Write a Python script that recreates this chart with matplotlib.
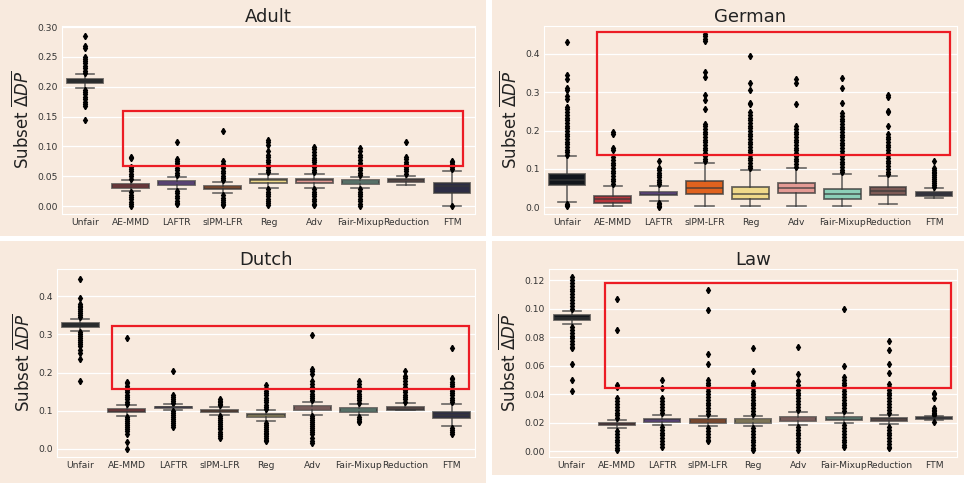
import matplotlib
matplotlib.use("Agg")
import matplotlib.pyplot as plt
from matplotlib.patches import Rectangle

methods = ["Unfair", "AE-MMD", "LAFTR", "sIPM-LFR", "Reg", "Adv",
           "Fair-Mixup", "Reduction", "FTM"]
palette = ["#12161c", "#b8363c", "#8c55d8", "#e0621e", "#efd98a",
           "#e49a94", "#8ccfb8", "#7d5a55", "#2d2d45"]

# ---- Adult ----
adult_q1 = [0.207, 0.031, 0.036, 0.028, 0.039, 0.039, 0.037, 0.040, 0.022]
adult_med = [0.210, 0.034, 0.039, 0.031, 0.043, 0.043, 0.040, 0.043, 0.033]
adult_q3 = [0.213, 0.037, 0.042, 0.033, 0.046, 0.046, 0.043, 0.045, 0.038]
adult_lo = [0.198, 0.026, 0.028, 0.021, 0.031, 0.031, 0.031, 0.035, 0.0005]
adult_hi = [0.221, 0.043, 0.049, 0.040, 0.054, 0.054, 0.049, 0.051, 0.059]
adult_fliers = [
    [0.223, 0.227, 0.231, 0.235, 0.239, 0.243, 0.247, 0.250, 0.265, 0.268, 0.285,
     0.195, 0.191, 0.187, 0.183, 0.179, 0.175, 0.171, 0.168, 0.145],
    [0.046, 0.050, 0.054, 0.058, 0.062, 0.065, 0.080, 0.082,
     0.023, 0.019, 0.015, 0.011, 0.007, 0.003, 0.0],
    [0.052, 0.056, 0.060, 0.064, 0.068, 0.072, 0.076, 0.079, 0.108,
     0.025, 0.021, 0.017, 0.013, 0.009, 0.005, 0.003],
    [0.043, 0.047, 0.051, 0.055, 0.059, 0.063, 0.067, 0.071, 0.075, 0.125,
     0.018, 0.014, 0.010, 0.006, 0.003, 0.001],
    [0.057, 0.061, 0.065, 0.069, 0.073, 0.077, 0.082, 0.086, 0.093, 0.103, 0.107, 0.111,
     0.028, 0.024, 0.020, 0.016, 0.012, 0.008, 0.005, 0.002],
    [0.057, 0.061, 0.065, 0.069, 0.073, 0.077, 0.081, 0.085, 0.090, 0.095, 0.099,
     0.028, 0.024, 0.020, 0.016, 0.012, 0.008, 0.004, 0.001],
    [0.052, 0.056, 0.060, 0.064, 0.068, 0.072, 0.077, 0.082, 0.086, 0.092, 0.097,
     0.028, 0.024, 0.020, 0.016, 0.012, 0.008, 0.004, 0.0],
    [0.054, 0.058, 0.062, 0.066, 0.070, 0.074, 0.078, 0.082, 0.107],
    [0.062, 0.066, 0.070, 0.073, 0.076, 0.0],
]

# ---- German ----
german_q1 = [0.057, 0.011, 0.031, 0.035, 0.022, 0.038, 0.022, 0.0315, 0.028]
german_med = [0.072, 0.020, 0.035, 0.050, 0.035, 0.050, 0.033, 0.042, 0.033]
german_q3 = [0.0875, 0.029, 0.040, 0.067, 0.052, 0.063, 0.048, 0.0525, 0.0385]
german_lo = [0.013, 0.003, 0.016, 0.003, 0.002, 0.003, 0.003, 0.007, 0.0245]
german_hi = [0.133, 0.056, 0.056, 0.116, 0.097, 0.102, 0.0875, 0.082, 0.050]
german_fliers = [
    [0.136, 0.143, 0.150, 0.157, 0.164, 0.171, 0.178, 0.185, 0.192, 0.199, 0.206,
     0.213, 0.220, 0.227, 0.234, 0.241, 0.248, 0.255, 0.262, 0.282, 0.290, 0.305,
     0.310, 0.335, 0.345, 0.430, 0.002, 0.006, 0.009],
    [0.060, 0.067, 0.074, 0.081, 0.088, 0.095, 0.102, 0.109, 0.116, 0.123, 0.130,
     0.150, 0.155, 0.190, 0.195],
    [0.060, 0.066, 0.072, 0.078, 0.084, 0.090, 0.096, 0.101, 0.120,
     0.012, 0.008, 0.004, 0.001],
    [0.120, 0.127, 0.134, 0.141, 0.148, 0.155, 0.162, 0.169, 0.176, 0.183, 0.190,
     0.197, 0.204, 0.211, 0.218, 0.255, 0.280, 0.292, 0.340, 0.352, 0.435, 0.440,
     0.447, 0.452],
    [0.101, 0.108, 0.115, 0.122, 0.129, 0.136, 0.143, 0.150, 0.157, 0.164, 0.171,
     0.178, 0.185, 0.192, 0.199, 0.206, 0.213, 0.220, 0.227, 0.234, 0.241, 0.248,
     0.270, 0.272, 0.305, 0.325, 0.395],
    [0.106, 0.113, 0.120, 0.127, 0.134, 0.141, 0.148, 0.155, 0.162, 0.169, 0.176,
     0.183, 0.190, 0.197, 0.204, 0.211, 0.270, 0.325, 0.335],
    [0.091, 0.098, 0.105, 0.112, 0.119, 0.126, 0.133, 0.140, 0.147, 0.154, 0.161,
     0.168, 0.175, 0.182, 0.189, 0.196, 0.203, 0.210, 0.217, 0.224, 0.231, 0.238,
     0.245, 0.272, 0.312, 0.336],
    [0.086, 0.093, 0.100, 0.107, 0.114, 0.121, 0.128, 0.135, 0.142, 0.149, 0.156,
     0.163, 0.170, 0.177, 0.184, 0.190, 0.212, 0.248, 0.252, 0.288, 0.294],
    [0.053, 0.058, 0.063, 0.068, 0.073, 0.078, 0.083, 0.088, 0.093, 0.098, 0.102, 0.120],
]

# ---- Dutch ----
dutch_q1 = [0.320, 0.096, 0.107, 0.097, 0.083, 0.101, 0.098, 0.101, 0.080]
dutch_med = [0.325, 0.100, 0.109, 0.100, 0.088, 0.107, 0.103, 0.105, 0.0895]
dutch_q3 = [0.329, 0.104, 0.111, 0.103, 0.092, 0.112, 0.108, 0.110, 0.0965]
dutch_lo = [0.309, 0.087, 0.103, 0.090, 0.072, 0.089, 0.088, 0.101, 0.059]
dutch_hi = [0.341, 0.114, 0.117, 0.110, 0.101, 0.123, 0.117, 0.120, 0.118]
dutch_fliers = [
    [0.345, 0.350, 0.355, 0.360, 0.365, 0.370, 0.375, 0.380, 0.395, 0.445,
     0.305, 0.300, 0.295, 0.290, 0.285, 0.280, 0.275, 0.270, 0.260, 0.250, 0.235, 0.178],
    [0.118, 0.124, 0.130, 0.136, 0.142, 0.148, 0.154, 0.160, 0.166, 0.172, 0.176, 0.290,
     0.083, 0.078, 0.073, 0.068, 0.063, 0.058, 0.053, 0.048, 0.040, 0.017, 0.0],
    [0.121, 0.126, 0.131, 0.136, 0.140, 0.203,
     0.099, 0.094, 0.089, 0.084, 0.079, 0.074, 0.068, 0.062, 0.058],
    [0.114, 0.118, 0.122, 0.126, 0.130,
     0.086, 0.081, 0.076, 0.071, 0.066, 0.061, 0.056, 0.051, 0.045, 0.040, 0.035, 0.030],
    [0.105, 0.110, 0.116, 0.122, 0.128, 0.134, 0.140, 0.146, 0.152, 0.160, 0.168,
     0.068, 0.063, 0.058, 0.053, 0.048, 0.043, 0.038, 0.033, 0.028, 0.023, 0.020],
    [0.127, 0.133, 0.139, 0.145, 0.151, 0.157, 0.163, 0.170, 0.178, 0.195, 0.203, 0.210, 0.297,
     0.085, 0.080, 0.075, 0.070, 0.065, 0.060, 0.055, 0.050, 0.045, 0.040, 0.030, 0.022, 0.015],
    [0.121, 0.127, 0.133, 0.139, 0.145, 0.151, 0.157, 0.163, 0.170, 0.178,
     0.084, 0.079, 0.074, 0.070],
    [0.124, 0.130, 0.136, 0.142, 0.148, 0.155, 0.162, 0.170, 0.178, 0.185, 0.192, 0.203],
    [0.122, 0.128, 0.134, 0.140, 0.146, 0.152, 0.158, 0.164, 0.170, 0.176, 0.182, 0.186, 0.265,
     0.055, 0.050, 0.045, 0.040],
]

# ---- Law ----
law_q1 = [0.0919, 0.0180, 0.0204, 0.0199, 0.0199, 0.0213, 0.0216, 0.0211, 0.0225]
law_med = [0.0935, 0.0190, 0.0216, 0.0210, 0.0210, 0.0227, 0.0227, 0.0223, 0.0232]
law_q3 = [0.0951, 0.0199, 0.0227, 0.0225, 0.0223, 0.0241, 0.0241, 0.0234, 0.0237]
law_lo = [0.0888, 0.0162, 0.0185, 0.0178, 0.0176, 0.0185, 0.0197, 0.0192, 0.0215]
law_hi = [0.0984, 0.0216, 0.0250, 0.0248, 0.0248, 0.0277, 0.0267, 0.0255, 0.0245]
law_fliers = [
    [0.100, 0.102, 0.104, 0.106, 0.108, 0.110, 0.112, 0.114, 0.116, 0.118, 0.120, 0.122,
     0.087, 0.085, 0.083, 0.081, 0.079, 0.077, 0.075, 0.073, 0.072, 0.061, 0.0495, 0.042],
    [0.023, 0.025, 0.027, 0.029, 0.031, 0.033, 0.035, 0.037, 0.045, 0.046, 0.085, 0.107,
     0.014, 0.012, 0.010, 0.008, 0.006, 0.004, 0.002, 0.001],
    [0.027, 0.029, 0.031, 0.033, 0.035, 0.037, 0.044, 0.050,
     0.017, 0.015, 0.013, 0.011, 0.009, 0.007, 0.005, 0.003],
    [0.026, 0.028, 0.030, 0.032, 0.034, 0.036, 0.038, 0.040, 0.042, 0.044, 0.046,
     0.048, 0.050, 0.061, 0.068, 0.099, 0.113,
     0.016, 0.014, 0.012, 0.010, 0.008, 0.007],
    [0.026, 0.028, 0.030, 0.032, 0.034, 0.036, 0.038, 0.040, 0.042, 0.044, 0.046,
     0.048, 0.056, 0.072,
     0.016, 0.014, 0.012, 0.010, 0.008, 0.006, 0.004, 0.002, 0.0005],
    [0.029, 0.031, 0.033, 0.035, 0.037, 0.039, 0.041, 0.043, 0.046, 0.049, 0.054, 0.073,
     0.017, 0.015, 0.013, 0.011, 0.009, 0.007, 0.005, 0.003, 0.001],
    [0.028, 0.030, 0.032, 0.034, 0.036, 0.038, 0.040, 0.042, 0.044, 0.046, 0.048,
     0.050, 0.052, 0.060, 0.100,
     0.018, 0.016, 0.014, 0.012, 0.010, 0.008, 0.006, 0.004, 0.003],
    [0.027, 0.029, 0.031, 0.033, 0.035, 0.037, 0.039, 0.041, 0.043, 0.045, 0.047,
     0.055, 0.061, 0.071, 0.077,
     0.017, 0.015, 0.013, 0.011, 0.009, 0.007, 0.005, 0.003, 0.002],
    [0.025, 0.026, 0.027, 0.028, 0.029, 0.030, 0.037, 0.040, 0.041, 0.0205],
]

# panel: (title, stats arrays, axes rect, ylim, yticks, tick format, red box)
panels = [
    ("Adult", (adult_q1, adult_med, adult_q3, adult_lo, adult_hi, adult_fliers),
     [0.0643, 0.5569, 0.4284, 0.3892], (-0.0134, 0.3017),
     [0.0, 0.05, 0.10, 0.15, 0.20, 0.25, 0.30], "{:.2f}", (0.83, 0.067, 8.24, 0.159)),
    ("German", (german_q1, german_med, german_q3, german_lo, german_hi, german_fliers),
     [0.5643, 0.5569, 0.4284, 0.3892], (-0.018, 0.473),
     [0.0, 0.1, 0.2, 0.3, 0.4], "{:.1f}", (0.645, 0.136, 8.34, 0.4575)),
    ("Dutch", (dutch_q1, dutch_med, dutch_q3, dutch_lo, dutch_hi, dutch_fliers),
     [0.0591, 0.0538, 0.4336, 0.3892], (-0.021, 0.4706),
     [0.0, 0.1, 0.2, 0.3, 0.4], "{:.1f}", (0.69, 0.157, 8.37, 0.3216)),
    ("Law", (law_q1, law_med, law_q3, law_lo, law_hi, law_fliers),
     [0.5695, 0.0538, 0.4232, 0.3892], (-0.0042, 0.1277),
     [0.0, 0.02, 0.04, 0.06, 0.08, 0.10, 0.12], "{:.2f}", (0.74, 0.0442, 8.37, 0.1179)),
]

bg = "#f8eade"
fig = plt.figure(figsize=(9.64, 4.83), dpi=100, facecolor="white")

# peach panel backgrounds with white gaps between them
for x0, y0, w, h in [(0, 247, 486, 236), (492, 247, 472, 236),
                     (0, 0, 486, 242), (492, 8, 472, 234)]:
    fig.patches.append(Rectangle((x0 / 964, y0 / 483), w / 964, h / 483,
                                 transform=fig.transFigure, facecolor=bg,
                                 edgecolor="none", zorder=-10))

edge = (0.22, 0.22, 0.22, 0.75)
for title, (q1, med, q3, lo, hi, fl), rect, ylim, yticks, fmt, red in panels:
    ax = fig.add_axes(rect)
    ax.set_facecolor(bg)
    stats = []
    for i in range(len(methods)):
        stats.append({"med": med[i], "q1": q1[i], "q3": q3[i],
                      "whislo": lo[i], "whishi": hi[i], "fliers": fl[i]})
    bp = ax.bxp(stats, positions=range(len(methods)), widths=0.8,
                patch_artist=True, capwidths=0.4,
                boxprops=dict(edgecolor=edge, linewidth=1.3),
                medianprops=dict(color=edge, linewidth=1.2),
                whiskerprops=dict(color=edge, linewidth=1.2),
                capprops=dict(color=edge, linewidth=1.2),
                flierprops=dict(marker="d", markerfacecolor="black",
                                markeredgecolor="black", markersize=3.2))
    for patch, c in zip(bp["boxes"], palette):
        patch.set_facecolor(c)

    ax.set_xlim(-0.5, len(methods) - 0.5)
    ax.set_ylim(*ylim)
    ax.set_yticks(yticks)
    ax.set_yticklabels([fmt.format(t) for t in yticks])
    ax.set_xticks(range(len(methods)))
    ax.set_xticklabels(methods)
    ax.tick_params(length=0, labelsize=6.6, labelcolor="#333333", pad=3)
    ax.yaxis.grid(True, color="white", linewidth=0.9)
    ax.set_axisbelow(True)
    for s in ax.spines.values():
        s.set_color("white")
        s.set_linewidth(0.8)
    ax.set_title(title, fontsize=13, color="#222222", pad=2)
    ax.set_ylabel(r"Subset $\overline{\mathit{\Delta} DP}$", fontsize=12,
                  color="#222222", labelpad=3)

    x0, y0, x1, y1 = red
    ax.add_patch(Rectangle((x0, y0), x1 - x0, y1 - y0, fill=False,
                           edgecolor="#ec1c24", linewidth=1.6, zorder=5,
                           clip_on=False))

fig.savefig("out.png", dpi=100, facecolor="white")
